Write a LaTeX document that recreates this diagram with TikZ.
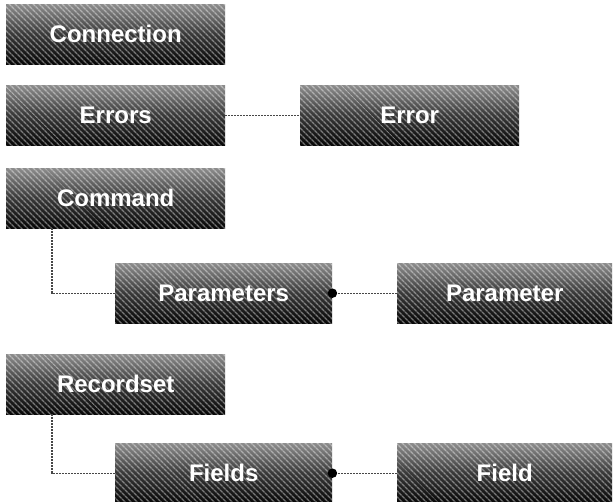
\documentclass[tikz,border=0pt]{standalone}
\usepackage{fontspec}
\setmainfont{Liberation Sans}
\usetikzlibrary{patterns.meta}

\tikzset{
  objbox/.style={
    anchor=north west, inner sep=0pt,
    minimum width=219pt, minimum height=60pt,
    top color=black!45, bottom color=black!97, middle color=black!78,
    postaction={fill opacity=0.42, pattern={Lines[angle=-45,distance=4pt,line width=1.5pt]}, pattern color=white},
    text=white, font=\bfseries\fontsize{24}{28}\selectfont
  },
  link/.style={draw=black!72, line width=1.3pt, dash pattern=on 2pt off 1pt},
  enddot/.style={circle, fill=black, inner sep=0pt, minimum size=9.5pt}
}

\begin{document}
\begin{tikzpicture}[x=1pt, y=-1pt]
  \useasboundingbox[fill=white] (0,0) rectangle (613,502);

  % object boxes
  \node[objbox] (conn)   at (6,4)     {Connection};
  \node[objbox] (errs)   at (6,85)    {Errors};
  \node[objbox] (err)    at (300,85)  {Error};
  \node[objbox] (cmd)    at (6,168)   {Command};
  \node[objbox, minimum width=217pt] (params) at (115,263) {Parameters};
  \node[objbox, minimum width=215pt] (param)  at (397,263) {Parameter};
  \node[objbox] (rs)     at (6,354)   {Recordset};
  \node[objbox, minimum width=217pt] (fields) at (115,443) {Fields};
  \node[objbox, minimum width=215pt] (field)  at (397,443) {Field};

  % collection-to-item links
  \draw[link] (errs.east) -- (err.west);
  \draw[link] (params.east) -- (param.west);
  \draw[link] (fields.east) -- (field.west);

  % parent-to-collection elbows
  \draw[link] ([xshift=46pt]cmd.south west) |- (params.west);
  \draw[link] ([xshift=46pt]rs.south west) |- (fields.west);

  % ownership dots
  \node[enddot] (pdot) at (params.east) {};
  \node[enddot] (fdot) at (fields.east) {};
\end{tikzpicture}
\end{document}
